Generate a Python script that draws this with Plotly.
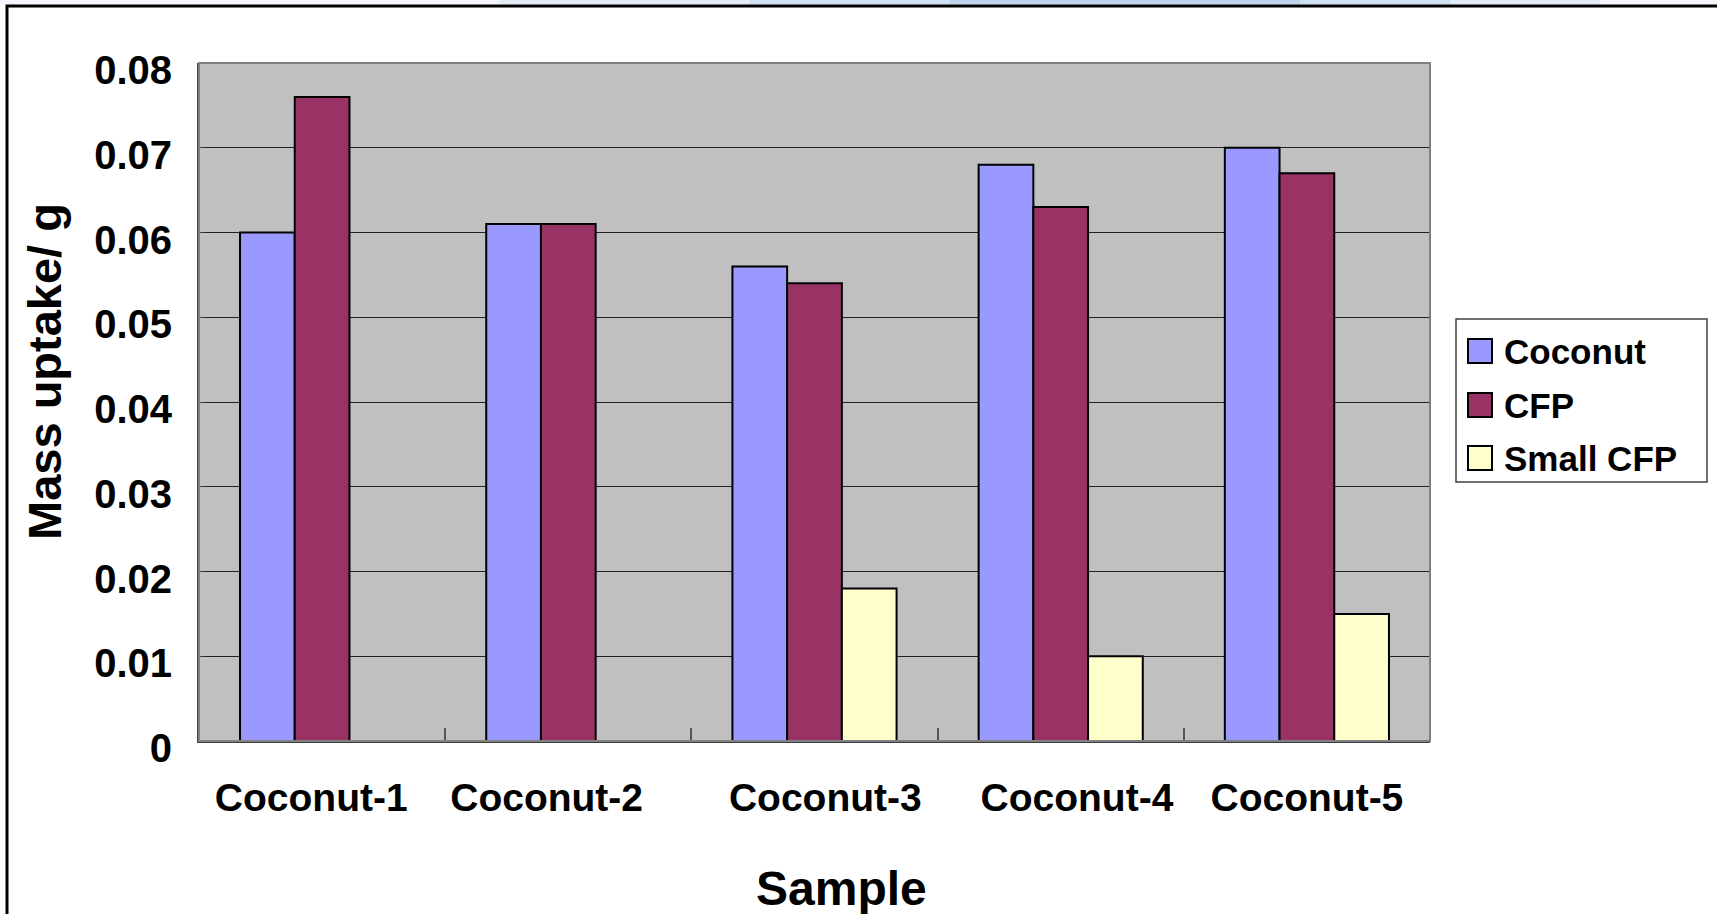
import plotly.graph_objects as go

# Sample categories and mass uptake (g) per material
samples = ["Coconut-1", "Coconut-2", "Coconut-3", "Coconut-4", "Coconut-5"]
coconut = [0.060, 0.061, 0.056, 0.068, 0.070]
cfp = [0.076, 0.061, 0.054, 0.063, 0.067]
small_cfp = [None, None, 0.018, 0.010, 0.015]

series_names = ["Coconut", "CFP", "Small CFP"]
series_colors = ["#9999FF", "#993366", "#FFFFCC"]
series_values = [coconut, cfp, small_cfp]

y_tick_vals = [0, 0.01, 0.02, 0.03, 0.04, 0.05, 0.06, 0.07, 0.08]
y_tick_text = ["0", "0.01", "0.02", "0.03", "0.04", "0.05", "0.06", "0.07", "0.08"]

# category labels carry a little padding, as typed in the sheet
NB = "\u00a0"
x_tick_text = [
    "Coconut-1" + NB * 2,
    "Coconut-2" + NB * 4,
    NB * 2 + "Coconut-3",
    NB * 3 + "Coconut-4",
    "Coconut-5",
]

W, H = 1717, 914
L, R, T, B = 199, 1430, 63, 741  # plot area in pixels

def px_x(px):
    return (px - L) / (R - L)

def px_y(py):
    return (B - py) / (B - T)

FONT = "Liberation Sans, Arial, sans-serif"

fig = go.Figure()
for name, color, vals in zip(series_names, series_colors, series_values):
    fig.add_trace(go.Bar(
        name=name, x=samples, y=vals,
        marker=dict(color=color, line=dict(color="#000000", width=2)),
        showlegend=False,
    ))

shapes = []
annotations = []

# soft blue band along the top edge of the slide
band = [
    (0, 1717, "#F3F7FB"),
    (500, 1600, "#E3EDF7"),
    (750, 1450, "#CFE1F2"),
    (950, 1300, "#BDD6EE"),
]
for x0, x1, c in band:
    shapes.append(dict(type="rect", xref="paper", yref="paper",
                       x0=px_x(x0), x1=px_x(x1), y0=px_y(4.5), y1=px_y(-2),
                       fillcolor=c, line=dict(width=0), layer="below"))
# slide frame
shapes.append(dict(type="rect", xref="paper", yref="paper",
                   x0=px_x(7), x1=px_x(W + 20), y0=px_y(6), y1=px_y(H + 20),
                   line=dict(color="#000000", width=3), layer="below"))
# plot area border
shapes.append(dict(type="rect", xref="paper", yref="paper",
                   x0=0, x1=1, y0=0, y1=1,
                   line=dict(color="#808080", width=2), layer="above"))

# legend box
shapes.append(dict(type="rect", xref="paper", yref="paper",
                   x0=px_x(1456), x1=px_x(1707), y0=px_y(482), y1=px_y(319),
                   fillcolor="#FFFFFF", line=dict(color="#404040", width=1.5),
                   layer="above"))
legend_rows = [351, 405, 458]
for name, color, cy in zip(series_names, series_colors, legend_rows):
    shapes.append(dict(type="rect", xref="paper", yref="paper",
                       x0=px_x(1468), x1=px_x(1492), y0=px_y(cy + 12), y1=px_y(cy - 12),
                       fillcolor=color, line=dict(color="#000000", width=2),
                       layer="above"))
    annotations.append(dict(text=name, xref="paper", yref="paper",
                            x=px_x(1502), y=px_y(cy), xanchor="left", yanchor="middle",
                            showarrow=False,
                            font=dict(family=FONT, size=35, color="#000000", weight="bold")))

# axis titles
annotations.append(dict(text="Mass uptake/ g", xref="paper", yref="paper",
                        x=px_x(44), y=px_y(372), xanchor="center", yanchor="middle",
                        textangle=-90, showarrow=False,
                        font=dict(family=FONT, size=47, color="#000000", weight="bold")))
annotations.append(dict(text="Sample", xref="paper", yref="paper",
                        x=px_x(841), y=px_y(888), xanchor="center", yanchor="middle",
                        showarrow=False,
                        font=dict(family=FONT, size=48, color="#000000", weight="bold")))

fig.update_layout(
    width=W, height=H,
    margin=dict(l=L, r=W - R, t=T, b=H - B, pad=0),
    paper_bgcolor="#FFFFFF",
    plot_bgcolor="#C0C0C0",
    barmode="group",
    bargap=1 / 3,
    bargroupgap=0,
    showlegend=False,
    shapes=shapes,
    annotations=annotations,
    xaxis=dict(
        type="category",
        tickmode="array", tickvals=samples, ticktext=x_tick_text,
        showgrid=False,
        showline=True, linecolor="#404040", linewidth=2,
        ticks="inside", tickson="boundaries", ticklen=13, tickwidth=2, tickcolor="#555555",
        ticklabelstandoff=21,
        tickfont=dict(family=FONT, size=39, color="#000000", weight="bold"),
    ),
    yaxis=dict(
        range=[0, 0.08],
        tickmode="array", tickvals=y_tick_vals, ticktext=y_tick_text,
        showgrid=True, gridcolor="#222222", gridwidth=1,
        zeroline=False,
        showline=True, linecolor="#404040", linewidth=2,
        ticks="inside", ticklen=5, tickwidth=1, tickcolor="#404040",
        ticklabelstandoff=17, ticklabelshift=7,
        tickfont=dict(family=FONT, size=40, color="#000000", weight="bold"),
    ),
)

fig.write_html("out.html")
